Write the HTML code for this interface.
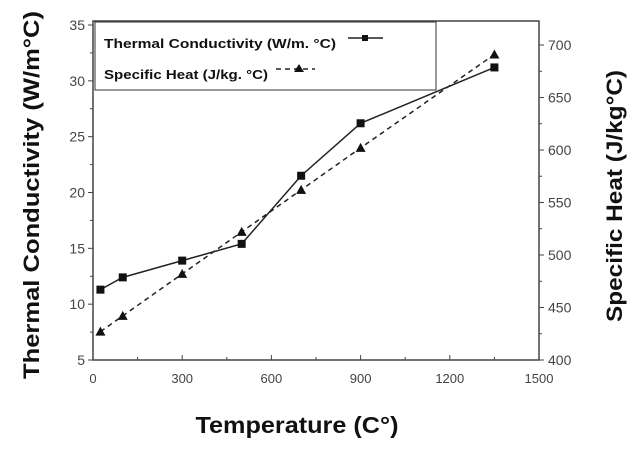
<!DOCTYPE html>
<html><head><meta charset="utf-8"><style>
body{margin:0;background:#fff}
svg text{font-family:"Liberation Sans",sans-serif}
</style></head><body>
<svg id="c" width="640" height="447" xmlns="http://www.w3.org/2000/svg">
<g id="g"></g>
</svg>
<script>
const temps=[25,100,300,500,700,900,1350];
const conductivity=[11.3,12.4,13.9,15.4,21.5,26.2,31.2];
const specificHeat=[427,442,482,522,562,602,691];
const xTicks=[0,300,600,900,1200,1500];
const yLeftTicks=[5,10,15,20,25,30,35];
const yRightTicks=[400,450,500,550,600,650,700];
const L=93,R=539,T=21,B=360;
const sx=v=>L+(v-0)/1500*(R-L);
const syL=v=>B-(v-5)/30*335;
const syR=v=>B-(v-400)*1.05;
const g=document.getElementById('g');
const NS='http://www.w3.org/2000/svg';
function mk(t,a,p){const e=document.createElementNS(NS,t);for(const k in a)e.setAttribute(k,a[k]);(p||g).appendChild(e);return e;}
let e;
e=mk('rect',{x:L,y:T,width:R-L,height:B-T,fill:'none',stroke:'#444','stroke-width':1.5});


xTicks.forEach((v,i)=>{
  e=mk('line',{x1:sx(v),x2:sx(v),y1:B,y2:B-5,stroke:'#444'});
  
  
  if(i<xTicks.length-1){e=mk('line',{x1:sx(v+150),x2:sx(v+150),y1:B,y2:B-3,stroke:'#444'});}
  e=mk('text',{x:sx(v),y:B+23,'text-anchor':'middle','font-size':13,fill:'#444'});e.textContent=v;
  
  
});
yLeftTicks.forEach((v,i)=>{
  e=mk('line',{x1:L-5,x2:L,y1:syL(v),y2:syL(v),stroke:'#444'});
  
  
  if(i<yLeftTicks.length-1){e=mk('line',{x1:L-3,x2:L,y1:syL(v+2.5),y2:syL(v+2.5),stroke:'#444'});}
  e=mk('text',{x:L-8,y:syL(v)+5,'text-anchor':'end','font-size':14,fill:'#444'});e.textContent=v;
  
  
});
yRightTicks.forEach((v,i)=>{
  e=mk('line',{x1:R,x2:R+5,y1:syR(v),y2:syR(v),stroke:'#444'});
  
  
  if(i<yRightTicks.length-1){e=mk('line',{x1:R,x2:R+3,y1:syR(v+25),y2:syR(v+25),stroke:'#444'});}
  e=mk('text',{x:R+9,y:syR(v)+5,'font-size':14,fill:'#444'});e.textContent=v;
  
  
});
e=mk('polyline',{points:temps.map((t,i)=>sx(t)+','+syR(specificHeat[i])).join(' '),fill:'none',stroke:'#222','stroke-width':1.5,'stroke-dasharray':'5,4'});


e=mk('polyline',{points:temps.map((t,i)=>sx(t)+','+syL(conductivity[i])).join(' '),fill:'none',stroke:'#222','stroke-width':1.5});


temps.forEach((t,i)=>{
  const x=sx(t),y=syR(specificHeat[i]);
  e=mk('polygon',{points:`${x},${y-5} ${x-5},${y+4} ${x+5},${y+4}`,fill:'#111'});
  
  
  const y2=syL(conductivity[i]);
  e=mk('rect',{x:x-4,y:y2-4,width:8,height:8,fill:'#111'});
  
  
});
</script>
<svg width="640" height="447" style="position:absolute;left:0;top:0" xmlns="http://www.w3.org/2000/svg">
<g>
<rect x="95" y="22" width="341" height="68" fill="#fff" stroke="#333" stroke-width="1"/>
<text x="104" y="48" font-size="13" font-weight="bold" fill="#111" textLength="232" lengthAdjust="spacingAndGlyphs">Thermal Conductivity (W/m. °C)</text>
<line x1="348" y1="38" x2="383" y2="38" stroke="#222" stroke-width="1.5"/>
<rect x="362" y="35" width="6" height="6" fill="#111"/>
<text x="104" y="79" font-size="13" font-weight="bold" fill="#111" textLength="164" lengthAdjust="spacingAndGlyphs">Specific Heat (J/kg. °C)</text>
<line x1="276" y1="69" x2="315" y2="69" stroke="#222" stroke-width="1.5" stroke-dasharray="5,4"/>
<polygon points="299,64 294,72 304,72" fill="#111"/>
</g>
<text x="0" y="0" transform="translate(39,195) rotate(-90)" text-anchor="middle" font-size="22" font-weight="bold" fill="#111" textLength="368" lengthAdjust="spacingAndGlyphs">Thermal Conductivity (W/m°C)</text>
<text x="0" y="0" transform="translate(622,196) rotate(-90)" text-anchor="middle" font-size="22" font-weight="bold" fill="#111" textLength="252" lengthAdjust="spacingAndGlyphs">Specific Heat (J/kg°C)</text>
<text x="297" y="433" text-anchor="middle" font-size="23" font-weight="bold" fill="#111" textLength="203" lengthAdjust="spacingAndGlyphs">Temperature (C°)</text>
</svg>
</body></html>
